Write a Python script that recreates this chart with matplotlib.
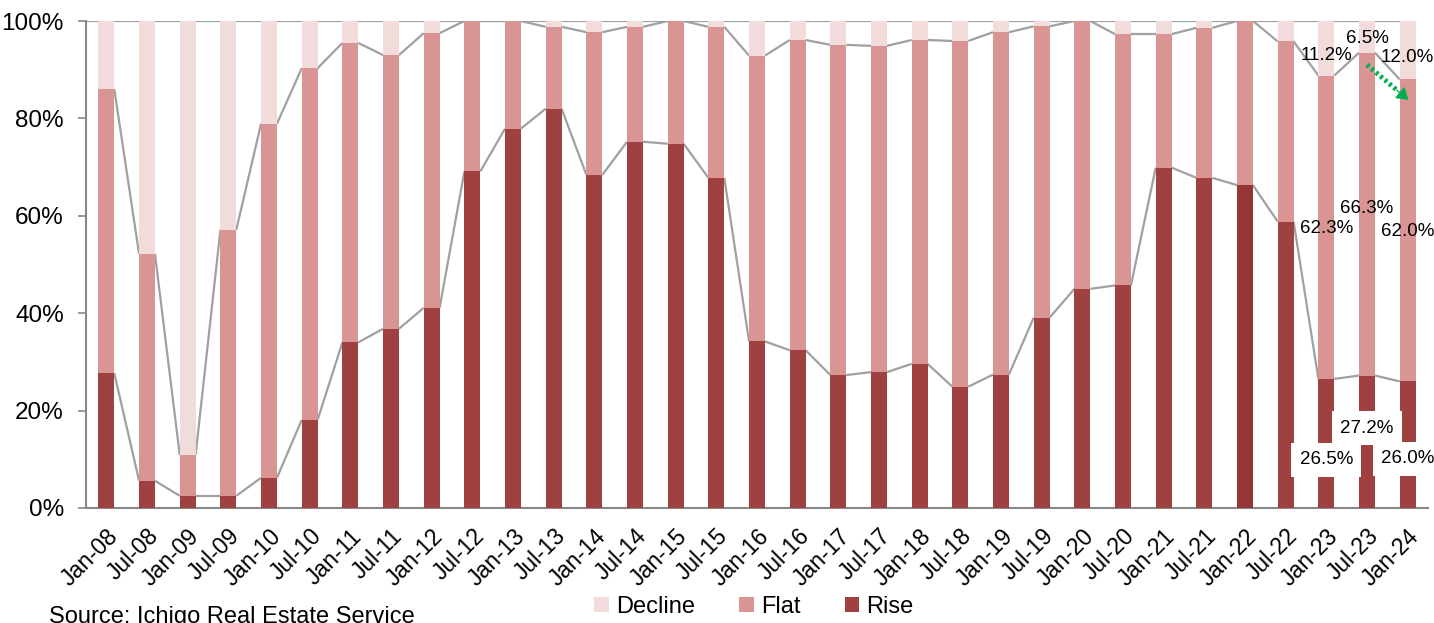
import matplotlib
matplotlib.use("Agg")
import matplotlib.pyplot as plt
import numpy as np

plt.rcParams['font.family'] = ['Liberation Sans', 'DejaVu Sans']

categories = ["Jan-08", "Jul-08", "Jan-09", "Jul-09", "Jan-10", "Jul-10", "Jan-11", "Jul-11",
              "Jan-12", "Jul-12", "Jan-13", "Jul-13", "Jan-14", "Jul-14", "Jan-15", "Jul-15",
              "Jan-16", "Jul-16", "Jan-17", "Jul-17", "Jan-18", "Jul-18", "Jan-19", "Jul-19",
              "Jan-20", "Jul-20", "Jan-21", "Jul-21", "Jan-22", "Jul-22", "Jan-23", "Jul-23", "Jan-24"]
rise = [27.7, 5.6, 2.5, 2.5, 6.2, 18.1, 34.0, 36.8, 41.1, 69.1, 77.9, 82.0, 68.4, 75.2, 74.8, 67.8,
        34.2, 32.4, 27.3, 27.9, 29.6, 24.9, 27.4, 39.1, 45.0, 45.7, 69.9, 67.8, 66.3, 58.8, 26.5, 27.2, 26.0]
flat = [58.3, 46.6, 8.4, 54.6, 72.7, 72.2, 61.5, 56.2, 56.4, 30.9, 22.1, 16.8, 29.3, 23.6, 25.2, 31.0,
        58.7, 63.7, 67.8, 67.0, 66.5, 71.0, 70.3, 59.8, 55.0, 51.6, 27.4, 30.8, 33.7, 37.0, 62.3, 66.3, 62.0]
decline = [14.0, 47.8, 89.1, 42.9, 21.1, 9.7, 4.5, 7.0, 2.5, 0.0, 0.0, 1.2, 2.3, 1.2, 0.0, 1.2,
           7.1, 3.9, 4.9, 5.1, 3.9, 4.1, 2.3, 1.1, 0.0, 2.7, 2.7, 1.4, 0.0, 4.2, 11.2, 6.5, 12.0]
yticks = [0, 20, 40, 60, 80, 100]
source_text = "Source: Ichigo Real Estate Service"

C_RISE = "#9E4140"
C_FLAT = "#D99594"
C_DECL = "#F2DCDB"
GRAY = "#A0A0A0"

W, H = 1434, 623
fig = plt.figure(figsize=(W / 100, H / 100), dpi=100)
ax = fig.add_axes([86 / W, 1 - 508 / H, (1428 - 86) / W, (508 - 21) / H])

x = np.arange(len(categories))
rise_a = np.array(rise)
flat_a = np.array(flat)
decl_a = np.array(decline)
bw = 0.39

rise_colors = [C_RISE] * len(x)
rise_colors[categories.index("Jan-22")] = "#943634"

ax.bar(x, rise_a, bw, color=rise_colors, label="Rise", zorder=3, linewidth=0)
ax.bar(x, flat_a, bw, bottom=rise_a, color=C_FLAT, label="Flat", zorder=3, linewidth=0)
ax.bar(x, decl_a, bw, bottom=rise_a + flat_a, color=C_DECL, label="Decline", zorder=3, linewidth=0)

# series lines
lvl1 = rise_a
lvl2 = rise_a + flat_a
for lvl in (lvl1, lvl2):
    for i in range(len(x) - 1):
        ax.plot([x[i] + bw / 2, x[i + 1] - bw / 2], [lvl[i], lvl[i + 1]], color=GRAY, lw=1.6,
                zorder=2, solid_capstyle='butt')
ax.plot([-0.5, x[-1] - bw / 2], [100, 100], color=GRAY, lw=1.6, zorder=2)

ax.set_xlim(-0.5, len(x) - 0.5)
ax.set_ylim(0, 100)
ax.set_yticks(yticks)
ax.set_yticklabels([f"{t}%" for t in yticks], fontsize=17.5)
ax.set_xticks(x)
ax.set_xticklabels(categories, rotation=45, ha='right', rotation_mode='anchor', fontsize=16.5)
ax.tick_params(axis='x', length=0, pad=12)
ax.tick_params(axis='y', length=6, color='#888888', width=1.2, pad=10)
for s in ['top', 'right']:
    ax.spines[s].set_visible(False)
for s in ['left', 'bottom']:
    ax.spines[s].set_color('#888888')
    ax.spines[s].set_linewidth(1.5)

# annotations for last three bars
n = len(x)
last = range(n - 3, n)
dec_y = [93.0, 96.4, 92.5]
flat_y = [57.3, 61.6, 56.7]
rise_y = [9.9, 16.4, 10.1]
for k, i in enumerate(last):
    ax.text(x[i], dec_y[k], f"{decline[i]:.1f}%", ha='center', va='center', fontsize=13.5, zorder=5)
    ax.text(x[i], flat_y[k], f"{flat[i]:.1f}%", ha='center', va='center', fontsize=13.5, zorder=5)
    ax.text(x[i], rise_y[k], f"{rise[i]:.1f}%", ha='center', va='center', fontsize=13.5, zorder=5,
            bbox=dict(boxstyle='square,pad=0.45', fc='white', ec='none'))

# green dotted arrow
start = (x[n - 2] + 0.0, 91.0)
end = (x[n - 1] + 0.02, 83.8)
mid = (start[0] + (end[0] - start[0]) * 0.72, start[1] + (end[1] - start[1]) * 0.72)
ax.plot([start[0], mid[0]], [start[1], mid[1]], color='#00B050', lw=3.5, linestyle=(0, (0.6, 0.6)),
        zorder=6, solid_capstyle='butt', dash_capstyle='butt')
ax.annotate('', xy=end, xytext=mid,
            arrowprops=dict(arrowstyle='-|>,head_length=0.7,head_width=0.45', color='#00B050',
                            lw=1, shrinkA=0, shrinkB=0), zorder=6)

handles, labels = ax.get_legend_handles_labels()
order = [2, 1, 0]
fig.legend([handles[i] for i in order], [labels[i] for i in order], loc='center',
           bbox_to_anchor=(754 / W, 1 - 607 / H), ncol=3, frameon=False, fontsize=17,
           handlelength=0.6, handleheight=0.6, handletextpad=0.3, columnspacing=1.9)

fig.text(49 / W, 1 - 606 / H, source_text, ha='left', va='top', fontsize=17)

fig.savefig("out.png", dpi=100)
